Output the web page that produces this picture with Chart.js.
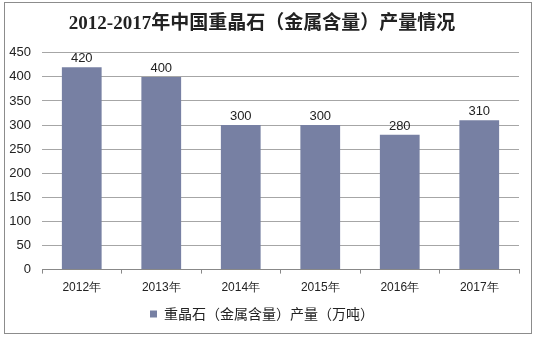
<!DOCTYPE html>
<html>
<head>
<meta charset="utf-8">
<script src="https://cdn.jsdelivr.net/npm/chart.js@4"></script>
<style>
  body { margin: 0; background: #fff; }
  #wrap { position: absolute; left: 4px; top: 2px; width: 526px; height: 330px; border: 1px solid #8c8c8c; }
  canvas { display: block; }
</style>
</head>
<body>
<div id="wrap"><canvas id="c" width="526" height="330"></canvas></div>
<script>
// data
const years = ['2012年', '2013年', '2014年', '2015年', '2016年', '2017年'];
const output = [420, 400, 300, 300, 280, 310];
const seriesName = '重晶石（金属含量）产量（万吨）';
const titleText = '2012-2017年中国重晶石（金属含量）产量情况';

// value labels over bars
const valueLabels = {
  id: 'valueLabels',
  afterDatasetsDraw(chart) {
    const ctx = chart.ctx;
    const meta = chart.getDatasetMeta(0);
    ctx.save();
    ctx.font = '13px "Liberation Sans", Arial, sans-serif';
    ctx.fillStyle = '#222';
    ctx.textAlign = 'center';
    ctx.textBaseline = 'bottom';
    meta.data.forEach((bar, i) => {
      ctx.fillText(output[i], bar.x, bar.y - 2);
    });
    ctx.restore();
  }
};

new Chart(document.getElementById('c'), {
  type: 'bar',
  data: {
    labels: years,
    datasets: [{
      label: seriesName,
      data: output,
      backgroundColor: '#7780a3',
      categoryPercentage: 1,
      barPercentage: 0.5
    }]
  },
  options: {
    responsive: false,
    animation: false,
    layout: { padding: { left: 0, right: 12, top: 0, bottom: 2 } },
    scales: {
      x: {
        grid: { display: true, drawOnChartArea: false, drawTicks: true, tickLength: 4, color: '#888', offset: true },
        border: { color: '#888' },
        ticks: { color: '#222', font: { size: 12, family: '"Liberation Sans", Arial, sans-serif' }, padding: 7 }
      },
      y: {
        min: 0, max: 450,
        afterFit: (scale) => { scale.width = 37; },
        ticks: { stepSize: 50, color: '#222', font: { size: 13, family: '"Liberation Sans", Arial, sans-serif' }, padding: 11 },
        grid: { color: '#a6a6a6', drawTicks: false },
        border: { display: false }
      }
    },
    plugins: {
      title: {
        display: true,
        text: titleText,
        color: '#222',
        font: { size: 19, weight: 'bold', family: '"Liberation Serif", "Noto Sans CJK SC", serif' },
        padding: { top: 10, bottom: 17 }
      },
      legend: {
        position: 'bottom',
        labels: {
          boxWidth: 7, boxHeight: 7,
          color: '#222',
          font: { size: 14, family: '"Noto Sans CJK SC", sans-serif' },
          padding: 5
        }
      },
      tooltip: { enabled: false }
    }
  },
  plugins: [valueLabels]
});
</script>
</body>
</html>
